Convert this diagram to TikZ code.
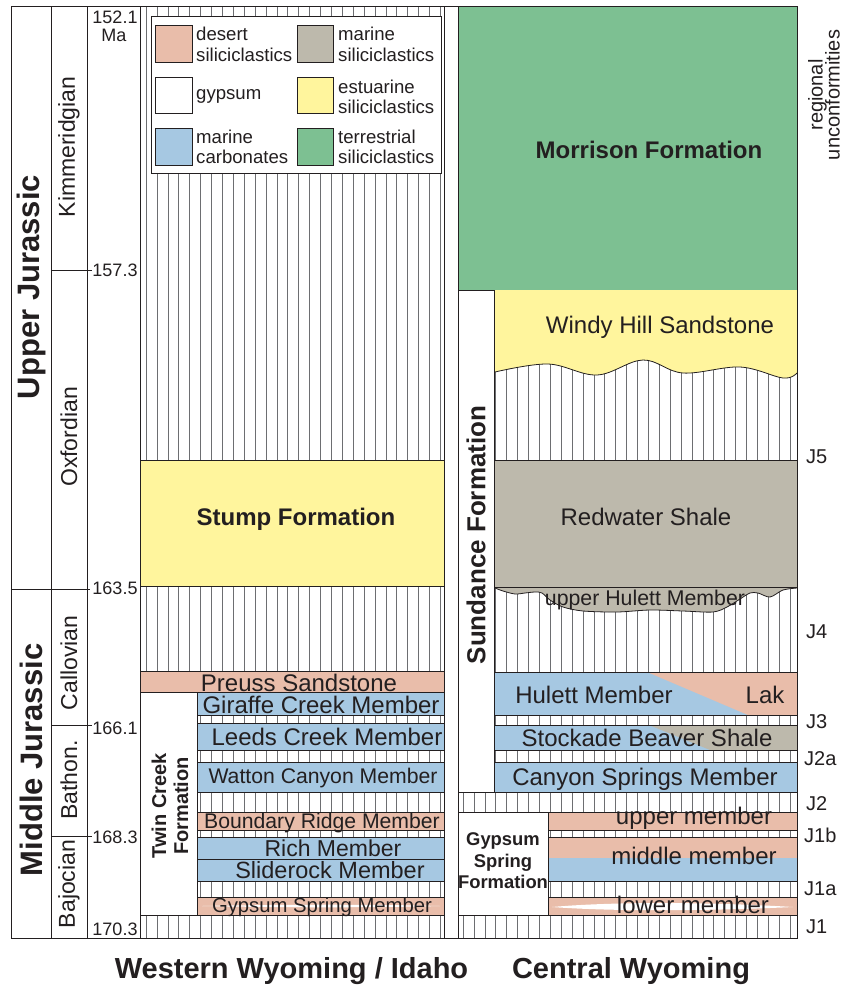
\documentclass[tikz,border=0pt]{standalone}
\usepackage{fontspec}
\setmainfont{Liberation Sans}
\definecolor{ink}{HTML}{231F20}
\definecolor{desert}{HTML}{E9BDAA}
\definecolor{msil}{HTML}{BDB9AC}
\definecolor{estu}{HTML}{FFF59D}
\definecolor{mcarb}{HTML}{A6C8E2}
\definecolor{terr}{HTML}{7DC092}
\definecolor{hatchc}{HTML}{6D6E71}
\newcommand{\fsz}[1]{\fontsize{#1pt}{#1pt}\selectfont}
\begin{document}
\begin{tikzpicture}[x=1pt,y=-1pt,
  box/.style={draw=ink, line width=0.8pt},
  frame/.style={draw=ink, line width=1pt},
  hatch/.style={draw=hatchc, line width=0.6pt},
  lbl/.style={text=ink, inner sep=0pt, font=\fsz{24}},
  blbl/.style={text=ink, inner sep=0pt, font=\bfseries\fsz{24}},
  leg/.style={text=ink, inner sep=0pt, font=\fsz{18.6}, anchor=base west},
  ma/.style={text=ink, inner sep=0pt, font=\fsz{18}},
  stage/.style={text=ink, inner sep=0pt, font=\fsz{23}, rotate=90},
  jl/.style={text=ink, inner sep=0pt, font=\fsz{20}, anchor=base west}]
\useasboundingbox (0,0) rectangle (842,989);
\fill[white] (0,0) rectangle (842,989);
% hatching
\foreach \x in {146,156.9,...,443} \draw[hatch] (\x,6) -- (\x,938);
\foreach \x in {463,473.9,...,796} \draw[hatch] (\x,6) -- (\x,938);
% ---------------- left panel ----------------
\filldraw[box, fill=white] (151,16) rectangle (441,173);
\filldraw[box, fill=desert] (155,25) rectangle (192,62);
\filldraw[box, fill=white] (155,77) rectangle (192,113);
\filldraw[box, fill=mcarb] (155,128) rectangle (192,165);
\filldraw[box, fill=msil] (297,25) rectangle (333,62);
\filldraw[box, fill=estu] (297,77) rectangle (333,113);
\filldraw[box, fill=terr] (297,128) rectangle (333,165);
\node[leg] (l1a) at (196,40) {desert};
\node[leg] (l1b) at (196,61) {siliciclastics};
\node[leg] (l2a) at (196,99) {gypsum};
\node[leg] (l3a) at (196,143) {marine};
\node[leg] (l3b) at (196,163) {carbonates};
\node[leg] (l4a) at (338,40) {marine};
\node[leg] (l4b) at (338,61) {siliciclastics};
\node[leg] (l5a) at (338,93) {estuarine};
\node[leg] (l5b) at (338,113) {siliciclastics};
\node[leg] (l6a) at (338,143) {terrestrial};
\node[leg] (l6b) at (338,163) {siliciclastics};
\filldraw[box, fill=estu] (140,460) rectangle (444,586);
\node[blbl, anchor=base] (stump) at (296,525) {Stump Formation};
\filldraw[box, fill=desert] (140,671) rectangle (444,692);
\filldraw[box, fill=white] (140,692) rectangle (197,915);
\filldraw[box, fill=mcarb] (197,692) rectangle (444,715);
\filldraw[box, fill=mcarb] (197,723) rectangle (444,750);
\filldraw[box, fill=mcarb] (197,762) rectangle (444,792);
\filldraw[box, fill=desert] (197,812) rectangle (444,830);
\filldraw[box, fill=mcarb] (197,837) rectangle (444,859);
\filldraw[box, fill=mcarb] (197,859) rectangle (444,881);
\filldraw[box, fill=desert] (197,897) rectangle (444,915);
\fill[white] (202,906) .. controls (280,904.3) and (380,904.3) .. (440,906) .. controls (380,907.7) and (280,907.7) .. (202,906) -- cycle;
\node[lbl, anchor=base] (preuss) at (299,691) {Preuss Sandstone};
\node[lbl, anchor=base] (giraffe) at (321,713) {Giraffe Creek Member};
\node[lbl, anchor=base] (leeds) at (327,745) {Leeds Creek Member};
\node[lbl, anchor=base, font=\fsz{21.2}] (watton) at (323,783) {Watton Canyon Member};
\node[lbl, anchor=base, font=\fsz{21.2}] (boundary) at (322,828) {Boundary Ridge Member};
\node[lbl, anchor=base, font=\fsz{23}] (rich) at (333,856) {Rich Member};
\node[lbl, anchor=base, font=\fsz{23.5}] (sliderock) at (330,878.5) {Sliderock Member};
\node[lbl, anchor=base, font=\fsz{20.3}] (gsm) at (322,912) {Gypsum Spring Member};
\node[blbl, rotate=90, align=center, font=\bfseries\fsz{20}] (twin) at (170,806) {Twin Creek\\[2pt]Formation};
% ---------------- right panel ----------------
\filldraw[box, fill=terr] (458,6) rectangle (797,290);
\node[blbl, anchor=base] (morrison) at (649,158.5) {Morrison Formation};
\fill[estu] (494,290) -- (797,290) -- plot[smooth, tension=0.6] coordinates {(797,373) (783,378) (740,367) (683,373) (643,360) (597,375) (548,364) (495,372)} -- cycle;
\draw[box] plot[smooth, tension=0.6] coordinates {(797,373) (783,378) (740,367) (683,373) (643,360) (597,375) (548,364) (495,372)};
\node[lbl, anchor=base] (windy) at (660,333) {Windy Hill Sandstone};
\filldraw[box, fill=msil] (494,460) rectangle (797,587);
\node[lbl, anchor=base] (redwater) at (646,525.5) {Redwater Shale};
\fill[msil] (494,587) -- plot[smooth, tension=0.5] coordinates {(495,588) (503,591) (515,594) (525,593) (535,592) (542,593) (550,600) (563,607) (583,611) (617,612) (650,610) (683,611) (713,612) (727,607) (740,599) (750,593) (758,593) (770,597) (783,590) (797,588)} -- (797,587) -- cycle;
\draw[box] plot[smooth, tension=0.5] coordinates {(495,588) (503,591) (515,594) (525,593) (535,592) (542,593) (550,600) (563,607) (583,611) (617,612) (650,610) (683,611) (713,612) (727,607) (740,599) (750,593) (758,593) (770,597) (783,590) (797,588)};
\draw[box] (494,587) -- (797,587);
\node[lbl, anchor=base, font=\fsz{21.3}] (uhulett) at (645,605) {upper Hulett Member};
% Hulett
\fill[mcarb] (494,672) rectangle (797,715);
\fill[desert] (647,672) -- (797,672) -- (797,715) -- (748,715) -- cycle;
\draw[box] (494,672) rectangle (797,715);
\node[lbl, anchor=base] (hulett) at (594,703) {Hulett Member};
\node[lbl, anchor=base] (lak) at (765,703) {Lak};
% Stockade Beaver
\fill[mcarb] (494,725) rectangle (797,750);
\fill[msil] (649,725) -- (797,725) -- (797,750) -- (710,750) -- cycle;
\draw[box] (494,725) rectangle (797,750);
\node[lbl, anchor=base] (stockade) at (647,746) {Stockade Beaver Shale};
\filldraw[box, fill=mcarb] (494,762) rectangle (797,792);
\node[lbl, anchor=base] (canyon) at (645,785) {Canyon Springs Member};
% Sundance column
\filldraw[box, fill=white] (458,290) rectangle (494,792);
\node[blbl, rotate=90, font=\bfseries\fsz{26}] (sundance) at (476,535) {Sundance Formation};
% Gypsum Spring Formation
\filldraw[box, fill=white] (458,812) rectangle (548,915);
\node[blbl, anchor=base, font=\bfseries\fsz{18.4}] (gs1) at (503,845) {Gypsum};
\node[blbl, anchor=base, font=\bfseries\fsz{18.4}] (gs2) at (503,867) {Spring};
\node[blbl, anchor=base, font=\bfseries\fsz{18.4}] (gs3) at (503,888) {Formation};
\filldraw[box, fill=desert] (548,812) rectangle (797,830);
\node[lbl, anchor=base] (upper) at (694,824) {upper member};
\fill[desert] (548,837) rectangle (797,858);
\fill[mcarb] (548,858) rectangle (797,881);
\draw[box] (548,837) rectangle (797,881);
\node[lbl, anchor=base] (middle) at (694,864) {middle member};
\filldraw[box, fill=desert] (548,897) rectangle (797,915);
\fill[white] (552,907) .. controls (620,901) and (720,902.5) .. (793,907) .. controls (720,910.5) and (620,912) .. (552,907) -- cycle;
\node[lbl, anchor=base] (lower) at (693,913) {lower member};
% ---------------- frame ----------------
\draw[frame] (11,6) rectangle (797,938);
\draw[frame] (51,6) -- (51,938);
\draw[frame] (87,6) -- (87,938);
\draw[frame] (140,6) -- (140,938);
\draw[frame] (444,6) -- (444,938);
\draw[frame] (458,6) -- (458,938);
\draw[frame] (51,270) -- (92,270);
\draw[frame] (11,589) -- (90,589);
\draw[frame] (51,725) -- (92,725);
\draw[frame] (51,836) -- (92,836);
% era & stages
\node[blbl, rotate=90, font=\bfseries\fsz{31}] (upperJ) at (31,287) {Upper Jurassic};
\node[blbl, rotate=90, font=\bfseries\fsz{31}] (middleJ) at (31,760) {Middle Jurassic};
\node[stage] (kimm) at (69,147) {Kimmeridgian};
\node[stage] (oxf) at (69,437) {Oxfordian};
\node[stage] (call) at (69,663) {Callovian};
\node[stage] (bath) at (69,780) {Bathon.};
\node[stage] (baj) at (69,884) {Bajocian};
% Ma labels
\node[ma] (m1) at (115,17.5) {152.1};
\node[ma] (m1b) at (114,35) {Ma};
\node[ma] (m2) at (115,270) {157.3};
\node[ma] (m3) at (115,588) {163.5};
\node[ma] (m4) at (115,728) {166.1};
\node[ma] (m5) at (115,837) {168.3};
\node[ma] (m6) at (115,929) {170.3};
% unconformities
\node[text=ink, inner sep=0pt, rotate=90, align=center, font=\fsz{20}] (reg) at (824,95) {regional\\[-3pt]unconformities};
\node[jl] (j5) at (806,463) {J5};
\node[jl] (j4) at (806,638) {J4};
\node[jl] (j3) at (806,728) {J3};
\node[jl] (j2a) at (804,765) {J2a};
\node[jl] (j2) at (806,810) {J2};
\node[jl] (j1b) at (804,842) {J1b};
\node[jl] (j1a) at (804,895) {J1a};
\node[jl] (j1) at (806,933) {J1};
% titles
\node[blbl, anchor=base, font=\bfseries\fsz{29}] (west) at (291.5,978) {Western Wyoming / Idaho};
\node[blbl, anchor=base, font=\bfseries\fsz{29}] (central) at (631,978) {Central Wyoming};
\end{tikzpicture}
\end{document}
